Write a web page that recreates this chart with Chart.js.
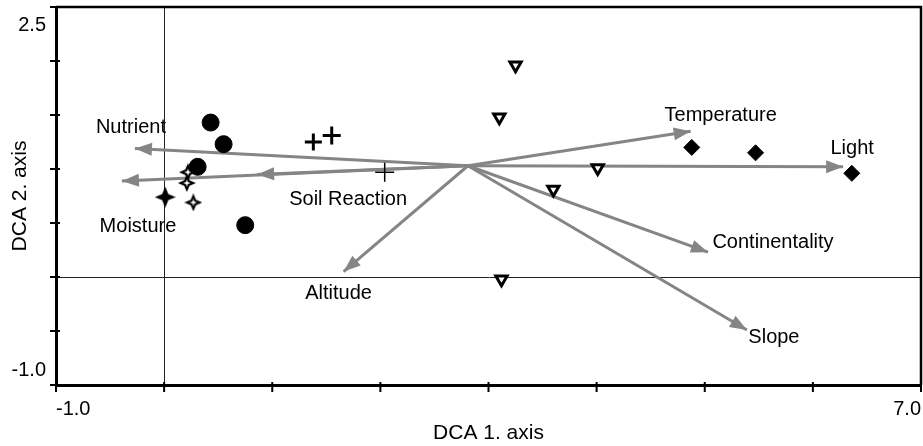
<!DOCTYPE html>
<html>
<head>
<meta charset="utf-8">
<script src="https://cdn.jsdelivr.net/npm/chart.js@4.4.1/dist/chart.umd.min.js"></script>
<style>
  html, body { margin: 0; padding: 0; background: #fff; }
  #wrap { width: 923px; height: 446px; position: relative; }
</style>
</head>
<body>
<div id="wrap"><canvas id="myChart"></canvas></div>
<script>
// DCA ordination biplot: sample scores + environmental variable arrows
const xTickLabels = ["-1.0", "7.0"];
const yTickLabels = ["-1.0", "2.5"];

const arrowOrigin = [2.81, 1.03];
const arrowNames = ["Nutrient", "Moisture", "Soil Reaction", "Altitude", "Temperature", "Light", "Continentality", "Slope"];
const arrowX = [-0.27, -0.39, 0.86, 1.66, 4.87, 6.28, 5.03, 5.39];
const arrowY = [1.19, 0.89, 0.95, 0.05, 1.35, 1.02, 0.23, -0.49];

const circleX = [0.43, 0.55, 0.31, 0.75];
const circleY = [1.43, 1.23, 1.02, 0.48];
const starX = [0.22, 0.21, 0.27];
const starY = [0.97, 0.87, 0.69];
const blackStarX = [0.01];
const blackStarY = [0.74];
const plusX = [1.38, 1.55, 2.04];
const plusY = [1.25, 1.31, 0.97];
const triangleX = [3.25, 3.10, 4.01, 3.60, 3.12];
const triangleY = [1.96, 1.48, 1.01, 0.81, -0.02];
const diamondX = [4.88, 5.47, 6.36];
const diamondY = [1.20, 1.15, 0.96];

// where each arrow label sits relative to its arrow tip (pixels)
const labelOffsets = [[-4, -21], [16, 46], [91, 25], [-5, 22], [30, -16], [9, -18], [65, -10], [27, 8]];

const FONT = "'Liberation Sans', Arial, sans-serif";
const ARROW_COLOR = "#858585";

Chart.defaults.font.family = FONT;
Chart.defaults.color = "#000";

function points(xs, ys) {
  return xs.map((x, i) => ({ x: x, y: ys[i] }));
}

function makeStar(size, hollow) {
  const c = document.createElement("canvas");
  c.width = size;
  c.height = size;
  const g = c.getContext("2d");
  const m = size / 2;
  const star = (R, r) => {
    g.beginPath();
    for (let k = 0; k < 4; k++) {
      const a = (k * Math.PI) / 2 - Math.PI / 2;
      const b = a + Math.PI / 4;
      g.lineTo(m + R * Math.cos(a), m + R * Math.sin(a));
      g.lineTo(m + r * Math.cos(b), m + r * Math.sin(b));
    }
    g.closePath();
    g.fill();
  };
  g.fillStyle = "#000";
  star(m, m * 0.42);
  if (hollow) {
    g.fillStyle = "#fff";
    star(m * 0.42, m * 0.14);
  }
  return c;
}

const arrowDatasets = arrowNames.map((name, i) => ({
  label: name,
  data: [
    { x: arrowOrigin[0], y: arrowOrigin[1] },
    { x: arrowX[i], y: arrowY[i] },
  ],
  showLine: true,
  borderColor: ARROW_COLOR,
  borderWidth: 3,
  pointRadius: 0,
  order: 10,
  isArrow: true,
}));

const arrowHeads = {
  id: "arrowHeads",
  afterDatasetDraw(chart, args) {
    const ds = chart.data.datasets[args.index];
    if (!ds.isArrow) return;
    const p0 = args.meta.data[0];
    const p1 = args.meta.data[1];
    const ang = Math.atan2(p1.y - p0.y, p1.x - p0.x);
    const len = 17, half = 6.5;
    const ctx = chart.ctx;
    ctx.save();
    ctx.fillStyle = ARROW_COLOR;
    ctx.translate(p1.x, p1.y);
    ctx.rotate(ang);
    ctx.beginPath();
    ctx.moveTo(0, 0);
    ctx.lineTo(-len, -half);
    ctx.lineTo(-len, half);
    ctx.closePath();
    ctx.fill();
    ctx.restore();
  },
};

const decorations = {
  id: "decorations",
  afterDatasetsDraw(chart) {
    const ctx = chart.ctx;
    const xs = chart.scales.x;
    const ys = chart.scales.y;
    ctx.save();
    ctx.fillStyle = "#000";
    ctx.font = "20px " + FONT;
    ctx.textAlign = "center";
    ctx.textBaseline = "middle";
    arrowNames.forEach((name, i) => {
      const px = xs.getPixelForValue(arrowX[i]) + labelOffsets[i][0];
      const py = ys.getPixelForValue(arrowY[i]) + labelOffsets[i][1];
      ctx.fillText(name, px, py);
    });
    ctx.restore();
  },
  afterDraw(chart) {
    const ctx = chart.ctx;
    const a = chart.chartArea;
    const xs = chart.scales.x;
    const ys = chart.scales.y;
    ctx.save();
    ctx.strokeStyle = "#000";
    // top and right frame
    ctx.lineWidth = 2.5;
    ctx.beginPath();
    ctx.moveTo(a.left, a.top);
    ctx.lineTo(a.right, a.top);
    ctx.lineTo(a.right, a.bottom);
    ctx.stroke();
    // tick marks crossing the axes
    ctx.lineWidth = 2;
    ctx.beginPath();
    xs.ticks.forEach((t) => {
      const px = xs.getPixelForValue(t.value);
      ctx.moveTo(px, a.bottom - 3);
      ctx.lineTo(px, a.bottom + 7);
    });
    ys.ticks.forEach((t) => {
      const py = ys.getPixelForValue(t.value);
      ctx.moveTo(a.left - 6, py);
      ctx.lineTo(a.left + 4, py);
    });
    ctx.stroke();
    // y tick labels sit inside the ends of the axis
    ctx.fillStyle = "#000";
    ctx.font = "20px " + FONT;
    ctx.textAlign = "right";
    ctx.textBaseline = "middle";
    ctx.fillText(yTickLabels[0], a.left - 10, ys.getPixelForValue(ys.min) - 15);
    ctx.fillText(yTickLabels[1], a.left - 10, ys.getPixelForValue(ys.max) + 18);
    ctx.restore();
  },
};

const zeroLine = (c) => (c.tick && c.tick.value === 0 ? "#222" : "rgba(0,0,0,0)");

function noPadding(s) {
  s.paddingLeft = 0;
  s.paddingRight = 0;
  s.paddingTop = 0;
  s.paddingBottom = 0;
}

const ctx = document.getElementById("myChart").getContext("2d");
const myChart = new Chart(ctx, {
  type: "scatter",
  data: {
    datasets: [
      {
        label: "circles",
        data: points(circleX, circleY),
        pointStyle: "circle",
        pointRadius: 8.5,
        backgroundColor: "#000",
        borderColor: "#000",
        borderWidth: 1,
        order: 1,
      },
      {
        label: "stars",
        data: points(starX, starY),
        pointStyle: makeStar(18, true),
        order: 2,
      },
      {
        label: "black stars",
        data: points(blackStarX, blackStarY),
        pointStyle: makeStar(21, false),
        order: 2,
      },
      {
        label: "plus",
        data: points(plusX, plusY),
        pointStyle: "cross",
        pointRadius: [8.5, 9, 9.5],
        borderColor: "#000",
        borderWidth: [3, 3, 1.5],
        order: 1,
      },
      {
        label: "triangles",
        data: points(triangleX, triangleY),
        pointStyle: "triangle",
        rotation: 180,
        pointRadius: 6.5,
        backgroundColor: "#fff",
        borderColor: "#000",
        borderWidth: 3,
        order: 1,
      },
      {
        label: "diamonds",
        data: points(diamondX, diamondY),
        pointStyle: "rectRot",
        pointRadius: 8,
        backgroundColor: "#000",
        borderColor: "#000",
        borderWidth: 1,
        order: 1,
      },
      ...arrowDatasets,
    ],
  },
  options: {
    responsive: true,
    maintainAspectRatio: false,
    animation: false,
    layout: { autoPadding: false, padding: { top: 7, right: 2, left: 0, bottom: 0 } },
    plugins: {
      legend: { display: false },
      tooltip: { enabled: false },
    },
    scales: {
      x: {
        type: "linear",
        position: "bottom",
        min: -1,
        max: 7,
        ticks: {
          stepSize: 1,
          align: "inner",
          padding: 12,
          maxRotation: 0,
          autoSkip: false,
          font: { size: 20 },
          callback: (v) => (v === -1 ? xTickLabels[0] : v === 7 ? xTickLabels[1] : ""),
        },
        grid: { drawTicks: false, color: zeroLine, lineWidth: 1 },
        border: { display: true, color: "#000", width: 3 },
        title: {
          display: true,
          text: "DCA 1. axis",
          font: { size: 21 },
          padding: { top: 0, bottom: 0 },
        },
        afterFit: (s) => {
          s.height = 61;
          noPadding(s);
        },
      },
      y: {
        type: "linear",
        position: "left",
        min: -1,
        max: 2.5,
        ticks: { stepSize: 0.5, display: false },
        grid: { drawTicks: false, color: zeroLine, lineWidth: 1 },
        border: { display: true, color: "#000", width: 3 },
        title: {
          display: true,
          text: "DCA 2. axis",
          font: { size: 21 },
          padding: { top: 8, bottom: 0 },
        },
        afterFit: (s) => {
          s.width = 56;
          noPadding(s);
        },
      },
    },
  },
  plugins: [arrowHeads, decorations],
});
</script>
</body>
</html>
